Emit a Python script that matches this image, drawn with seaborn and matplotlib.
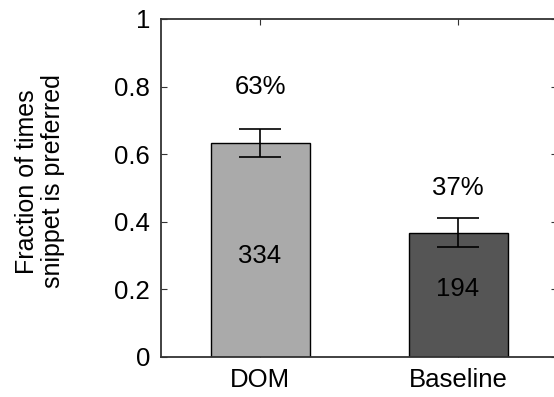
import pandas as pd
import numpy as np
import seaborn as sns
import matplotlib
matplotlib.use("Agg")
import matplotlib.pyplot as plt

# data
methods = ["DOM", "Baseline"]
fractions = [0.634, 0.368]
errors = [0.042, 0.042]
counts = [334, 194]
pct_labels = ["63%", "37%"]

# text positions (y, in data units)
pct_y = [0.8, 0.5]
count_y = [0.3, 0.2]

bar_colors = ["#aaaaaa", "#555555"]

sns.set_style("white")
plt.rcParams["font.family"] = ["Liberation Sans", "DejaVu Sans"]
plt.rcParams["font.size"] = 18.5
plt.rcParams["text.color"] = "black"
plt.rcParams["axes.labelcolor"] = "black"

df = pd.DataFrame({"method": methods, "fraction": fractions})

fig = plt.figure(figsize=(5.54, 3.97), dpi=100)
ax = fig.add_axes([161 / 554, 40 / 397, 396 / 554, 338 / 397])

sns.barplot(data=df, x="method", y="fraction", hue="method", palette=bar_colors,
            legend=False, width=0.5, edgecolor="black", linewidth=1, errorbar=None, ax=ax)

ax.errorbar(np.arange(len(methods)), fractions, yerr=errors, fmt="none",
            ecolor="black", elinewidth=1.2, capsize=15, capthick=1.2)

for i in range(len(methods)):
    ax.text(i, pct_y[i], pct_labels[i], ha="center", va="center", fontsize=18.5)
    ax.text(i, count_y[i], str(counts[i]), ha="center", va="center", fontsize=18.5)

ax.set_xlim(-0.5, 1.5)
ax.set_ylim(0, 1)
ax.set_yticks([0, 0.2, 0.4, 0.6, 0.8, 1])
ax.set_yticklabels(["0", "0.2", "0.4", "0.6", "0.8", "1"])
ax.set_xlabel("")
ax.set_ylabel("Fraction of times\nsnippet is preferred", fontsize=18,
              linespacing=1.12)
ax.yaxis.set_label_coords(-0.242, 0.52)

for s in ["left", "bottom", "top", "right"]:
    ax.spines[s].set_color("#333333")
    ax.spines[s].set_linewidth(1.3)
ax.tick_params(direction="in", length=4, width=0.8, colors="#333333",
               labelcolor="black", top=True, right=True, bottom=True, left=True,
               labelsize=18.5, pad=8)

fig.savefig("out.png", dpi=100)
